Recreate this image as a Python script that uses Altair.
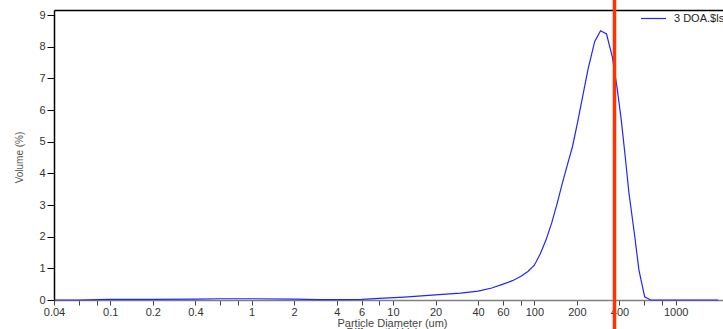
import altair as alt
import pandas as pd

# Differential volume distribution (volume % per size class)
diameter_um = [0.04, 0.06, 0.08, 0.1, 0.2, 0.4, 0.6, 1.0, 2.0, 3.0, 4.0, 6.0, 8.0,
               12.0, 20.0, 30.0, 40.0, 50.0, 60.0, 70.0, 80.0, 90.0, 100.0,
               110.0, 121.0, 133.0, 145.0, 158.0, 172.0, 186.0, 202.0, 219.0,
               240.0, 267.0, 294.0, 324.0, 356.0, 385.0, 412.0, 440.0, 467.0,
               510.0, 549.0, 603.0, 665.0, 800.0, 1000.0, 2000.0]
volume_pct = [0.0, 0.0, 0.01, 0.02, 0.02, 0.03, 0.04, 0.04, 0.03, 0.01, 0.01,
              0.02, 0.05, 0.09, 0.16, 0.22, 0.28, 0.38, 0.50, 0.61, 0.74, 0.90,
              1.10, 1.45, 1.90, 2.45, 3.05, 3.70, 4.30, 4.84, 5.60, 6.40, 7.30,
              8.16, 8.50, 8.40, 7.68, 6.70, 5.68, 4.50, 3.37, 2.10, 0.95, 0.10,
              0.0, 0.0, 0.0, 0.0]
series_name = "3 DOA.$ls"

# Vertical marker size
marker_um = [369]

x_tick_values = [0.04, 0.06, 0.08, 0.1, 0.2, 0.4, 0.6, 0.8, 1, 2, 4, 6, 8, 10,
                 20, 40, 60, 80, 100, 200, 400, 600, 800, 1000]
x_label_values = [0.04, 0.1, 0.2, 0.4, 1, 2, 4, 6, 10, 20, 40, 60, 100, 200,
                  400, 1000]
y_tick_values = [0, 1, 2, 3, 4, 5, 6, 7, 8, 9]

curve = pd.DataFrame({"diameter": diameter_um, "volume": volume_pct,
                      "series": [series_name] * len(diameter_um)})
marker = pd.DataFrame({"diameter": marker_um})

FONT = "Liberation Sans"
x_scale = alt.Scale(type="log", domain=[0.04, 2160], nice=False)
y_scale = alt.Scale(domain=[0, 9.158], nice=False, zero=True)

label_list = ",".join(str(v) for v in x_label_values)

line = alt.Chart(curve).mark_line(strokeWidth=1.2).encode(
    x=alt.X("diameter:Q", scale=x_scale,
            axis=alt.Axis(values=x_tick_values, orient="bottom",
                          labelExpr=f"indexof([{label_list}], datum.value) >= 0 ? toString(datum.value) : ''",
                          labelOverlap=False, labelFlush=False, grid=False,
                          tickSize=5, tickColor="#444", tickWidth=1,
                          domainColor="#808080", domainWidth=1.5,
                          labelPadding=1, labelFontSize=11, labelFont=FONT,
                          labelColor="#333",
                          title=["Particle Diameter (um)", "Differential Volume"],
                          titleFont=FONT, titleFontSize=11, titleFontWeight="normal",
                          titleColor="#444", titleX=338, titleY=26,
                          titleAlign="center", titleBaseline="alphabetic",
                          titleLineHeight=9)),
    y=alt.Y("volume:Q", scale=y_scale,
            axis=alt.Axis(values=y_tick_values, grid=False, tickSize=7,
                          tickColor="black", tickWidth=1,
                          domainColor="black", domainWidth=1.5,
                          labelPadding=2, labelFontSize=11, labelFont=FONT,
                          labelColor="#333",
                          title="Volume (%)", titleFont=FONT, titleFontSize=10,
                          titleFontWeight="normal", titleColor="#555",
                          titleAngle=270, titleX=-35, titleY=147,
                          titleAlign="center", titleBaseline="middle")),
    color=alt.Color("series:N",
                    scale=alt.Scale(domain=[series_name], range=["#2424ff"]),
                    legend=alt.Legend(orient="none", legendX=586, legendY=-5,
                                      title=None, symbolType="stroke",
                                      symbolSize=625, symbolStrokeWidth=1.2,
                                      labelFontSize=11, labelFont=FONT,
                                      labelColor="#222", labelOffset=7,
                                      padding=0)),
)

rule = alt.Chart(marker).mark_rule(color="#ff3300", strokeWidth=3.5).encode(
    x=alt.X("diameter:Q", scale=x_scale,
            axis=alt.Axis(orient="top", labels=False, ticks=False, grid=False,
                          domainColor="black", domainWidth=1.5, title=None)),
    y=alt.value(-12),
    y2=alt.value(340),
)

chart = alt.layer(line, rule).resolve_axis(x="independent").properties(
    width=669,
    height=290,
    autosize=alt.AutoSizeParams(type="none"),
    padding={"left": 54, "top": 10, "right": 0, "bottom": 29},
    title=alt.TitleParams("Particle Diameter (um)", font=FONT, fontSize=11,
                          fontWeight="normal", color="#444", anchor="middle",
                          frame="group", baseline="alphabetic", offset=4,
                          dx=8),
).configure_view(stroke=None).configure(background="white")

chart.save("out.html", embed_options={"renderer": "svg", "actions": False})
